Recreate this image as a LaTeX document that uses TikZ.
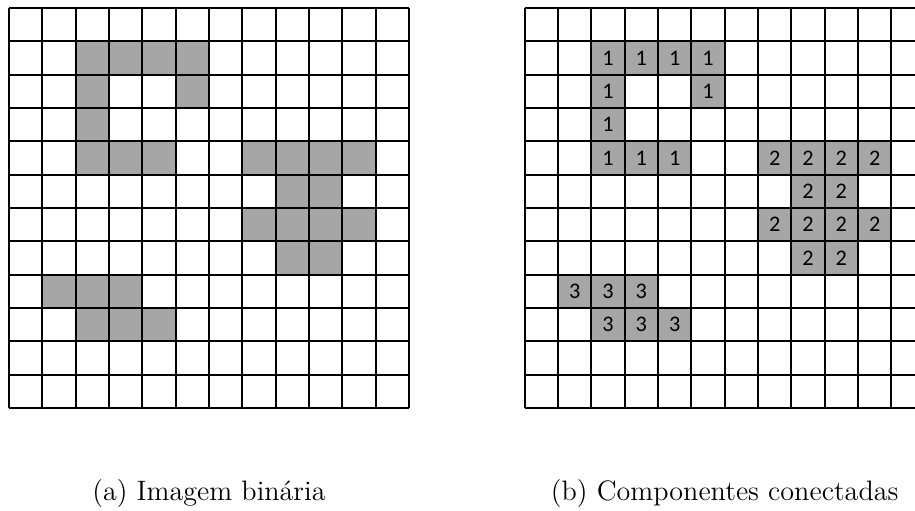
\documentclass[tikz,border=0pt]{standalone}
\usepackage{fontspec}
\newfontfamily\cellfont{Carlito}
\usetikzlibrary{positioning}
\definecolor{pixgray}{HTML}{A6A6A6}

\begin{document}
\begin{tikzpicture}[x=0.5cm, y=0.5cm,
            gridline/.style={line width=0.9pt},
            lbl/.style={font=\cellfont\fontsize{9.5}{11}\selectfont, inner sep=0pt},
            captext/.style={font=\fontsize{12}{14}\selectfont, anchor=base}]
            \useasboundingbox (-0.27,-3.06) rectangle (27.18,12.24);
            \clip (-0.27,-3.06) rectangle (27.18,12.24);
            % (a) binary image
            \foreach \c/\r/\k in {2/1/1,3/1/1,4/1/1,5/1/1,2/2/1,5/2/1,2/3/1,2/4/1,3/4/1,4/4/1,
                                  7/4/2,8/4/2,9/4/2,10/4/2,8/5/2,9/5/2,7/6/2,8/6/2,9/6/2,10/6/2,8/7/2,9/7/2,
                                  1/8/3,2/8/3,3/8/3,2/9/3,3/9/3,4/9/3}
                \fill[pixgray] (\c,11-\r) rectangle ++(1,1);
            \draw[gridline, step=1] (0,0) grid (12,12);
            \node[captext] (capa) at (6,-2.76) {(a) Imagem binária};
            % (b) labelled components
            \begin{scope}[xshift=7.735cm]
                \foreach \c/\r/\k in {2/1/1,3/1/1,4/1/1,5/1/1,2/2/1,5/2/1,2/3/1,2/4/1,3/4/1,4/4/1,
                                      7/4/2,8/4/2,9/4/2,10/4/2,8/5/2,9/5/2,7/6/2,8/6/2,9/6/2,10/6/2,8/7/2,9/7/2,
                                      1/8/3,2/8/3,3/8/3,2/9/3,3/9/3,4/9/3} {
                    \fill[pixgray] (\c,11-\r) rectangle ++(1,1);
                    \node[lbl] (l-\c-\r) at (\c+0.5,11.5-\r) {\k};
                }
                \draw[gridline, step=1] (0,0) grid (12,12);
                \node[captext] (capb) at (6,-2.76) {(b) Componentes conectadas};
            \end{scope}
        \end{tikzpicture}
\end{document}
